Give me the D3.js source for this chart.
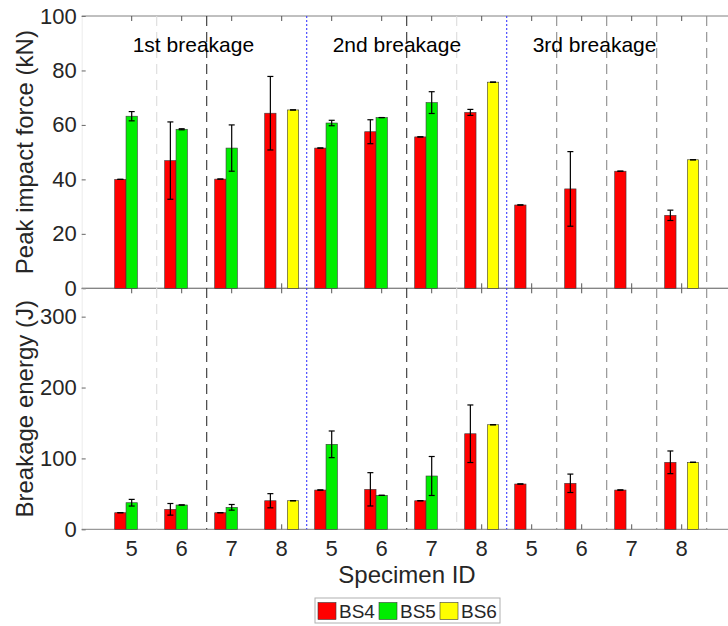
<!DOCTYPE html>
<html>
<head>
<meta charset="utf-8">
<script src="https://cdn.jsdelivr.net/npm/d3@7"></script>
<style>
  html, body { margin: 0; padding: 0; background: #fff; }
  svg { display: block; font-family: 'Liberation Sans', Arial, sans-serif; }
</style>
</head>
<body>
<div id="chart"></div>
<script>
// Specimen IDs, repeated for each breakage stage
const categories = ['5', '6', '7', '8', '5', '6', '7', '8', '5', '6', '7', '8'];
const series = ['BS4', 'BS5', 'BS6'];
const stageLabels = ['1st breakage', '2nd breakage', '3rd breakage'];

// Peak impact force (kN)
const forceBS4 = [40.0, 46.9, 40.1, 64.3, 51.5, 57.5, 55.6, 64.6, 30.6, 36.5, 43.0, 26.8];
const forceBS4Err = [0, 14.2, 0, 13.5, 0, 4.4, 0, 1.1, 0, 13.7, 0, 1.9];
const forceBS5 = [63.2, 58.4, 51.5, null, 60.7, 62.7, 68.2, null, null, null, null, null];
const forceBS5Err = [1.7, 0.2, 8.5, null, 1.0, 0, 4.0, null, null, null, null, null];
const forceBS6 = [null, null, null, 65.5, null, null, null, 75.7, null, null, null, 47.2];
const forceBS6Err = [null, null, null, 0, null, null, null, 0, null, null, null, 0];

// Breakage energy (J)
const energyBS4 = [23.4, 28.2, 23.4, 40.3, 55.4, 56.4, 40.3, 134.8, 63.9, 64.9, 55.4, 94.5];
const energyBS4Err = [0, 8.2, 0, 10.0, 0, 23.5, 0, 40.6, 0, 13.0, 0, 16.0];
const energyBS5 = [37.5, 34.3, 31.0, null, 119.9, 47.9, 75.2, null, null, null, null, null];
const energyBS5Err = [4.7, 0, 4.0, null, 18.8, 0, 27.5, null, null, null, null, null];
const energyBS6 = [null, null, null, 40.3, null, null, null, 147.5, null, null, null, 94.5];
const energyBS6Err = [null, null, null, 0, null, null, null, 0, null, null, null, 0];

const forceTicks = [0, 20, 40, 60, 80, 100];
const energyTicks = [0, 100, 200, 300];

(function () {
  'use strict';

  const width = 728;
  const height = 626;
  const colors = { BS4: '#ff0000', BS5: '#00ee00', BS6: '#ffff00' };
  const textColor = '#262626';
  const axisColor = '#808080';

  const svg = d3.select('#chart')
    .append('svg')
    .attr('width', width)
    .attr('height', height);

  svg.append('rect')
    .attr('width', width)
    .attr('height', height)
    .attr('fill', '#fff');

  // x scale: category i sits at i + 1
  const x = d3.scaleLinear().domain([0, 13]).range([81.7, 731.7]);
  const inner = d3.scaleBand().domain(series).range([-17, 17]).padding(0);

  const panels = [
    {
      label: 'Peak impact force (kN)',
      y: d3.scaleLinear().domain([0, 100]).range([288.3, 16]),
      ticks: forceTicks,
      values: { BS4: forceBS4, BS5: forceBS5, BS6: forceBS6 },
      errs: { BS4: forceBS4Err, BS5: forceBS5Err, BS6: forceBS6Err }
    },
    {
      label: 'Breakage energy (J)',
      y: d3.scaleLinear().domain([0, 340]).range([529.3, 288.3]),
      ticks: energyTicks,
      values: { BS4: energyBS4, BS5: energyBS5, BS6: energyBS6 },
      errs: { BS4: energyBS4Err, BS5: energyBS5Err, BS6: energyBS6Err }
    }
  ];

  // Vertical divider styles between specimens (null = none)
  const dividerStyle = [
    { color: '#dcdcdc', dash: '10,6' },
    { color: '#333333', dash: '10,6' },
    null,
    { color: '#3b3bff', dash: '2,2' },
    null,
    { color: '#333333', dash: '10,6' },
    { color: '#dcdcdc', dash: '10,6' },
    { color: '#3b3bff', dash: '2,2' },
    { color: '#8c8c8c', dash: '10,6' },
    { color: '#8c8c8c', dash: '10,6' },
    { color: '#8c8c8c', dash: '10,6' },
    { color: '#8c8c8c', dash: '10,6' }
  ];

  const catIdx = categories.map((_, i) => i);

  panels.forEach((p, pi) => {
    const y = p.y;
    const [yBottom, yTop] = y.range();

    // Left axis with inward ticks
    svg.append('g')
      .attr('transform', `translate(${x(0)},0)`)
      .call(d3.axisLeft(y).tickValues(p.ticks).tickSize(-4).tickPadding(5))
      .call(g => g.select('.domain').attr('stroke', '#ececec'))
      .call(g => g.selectAll('.tick line').attr('stroke', '#666'))
      .call(g => g.selectAll('.tick text')
        .attr('fill', textColor)
        .attr('font-size', '22px'));

    // Box lines top and bottom
    [yTop, yBottom].forEach(yy => {
      svg.append('line')
        .attr('x1', x(0)).attr('x2', width)
        .attr('y1', yy).attr('y2', yy)
        .attr('stroke', axisColor)
        .attr('stroke-width', 1);
    });

    // Inward category ticks on top and bottom
    svg.append('g')
      .selectAll('line.tt')
      .data(catIdx)
      .join('line')
      .attr('x1', i => x(i + 1)).attr('x2', i => x(i + 1))
      .attr('y1', yTop).attr('y2', yTop + 5)
      .attr('stroke', '#555');
    svg.append('g')
      .selectAll('line.bt')
      .data(catIdx)
      .join('line')
      .attr('x1', i => x(i + 1)).attr('x2', i => x(i + 1))
      .attr('y1', yBottom).attr('y2', yBottom - 5)
      .attr('stroke', '#555');

    // Y label
    svg.append('text')
      .attr('transform', `translate(33,${(yTop + yBottom) / 2}) rotate(-90)`)
      .attr('text-anchor', 'middle')
      .attr('fill', textColor)
      .attr('font-size', '24px')
      .text(p.label);
  });

  // Dividers across both panels
  dividerStyle.forEach((s, i) => {
    if (!s) return;
    svg.append('line')
      .attr('x1', x(i + 1.5)).attr('x2', x(i + 1.5))
      .attr('y1', 16).attr('y2', 529.3)
      .attr('stroke', s.color)
      .attr('stroke-width', 1.1)
      .attr('stroke-dasharray', s.dash);
  });

  // Bars and error bars
  panels.forEach(p => {
    const y = p.y;
    series.forEach(s => {
      const rows = catIdx
        .filter(i => p.values[s][i] !== null)
        .map(i => ({ i, v: p.values[s][i], e: p.errs[s][i] || 0 }));

      const g = svg.append('g');

      g.selectAll('rect')
        .data(rows)
        .join('rect')
        .attr('x', d => x(d.i + 1) + inner(s))
        .attr('width', inner.bandwidth())
        .attr('y', d => y(d.v))
        .attr('height', d => y(0) - y(d.v))
        .attr('fill', colors[s])
        .attr('stroke', '#3a3a3a')
        .attr('stroke-width', 0.6);

      const cx = d => x(d.i + 1) + inner(s) + inner.bandwidth() / 2;

      g.selectAll('line.err')
        .data(rows)
        .join('line')
        .attr('class', 'err')
        .attr('x1', cx).attr('x2', cx)
        .attr('y1', d => y(d.v + d.e))
        .attr('y2', d => y(d.v - d.e))
        .attr('stroke', '#000')
        .attr('stroke-width', 1.2);

      ['hi', 'lo'].forEach(k => {
        g.selectAll('line.cap' + k)
          .data(rows)
          .join('line')
          .attr('class', 'cap' + k)
          .attr('x1', d => cx(d) - 3).attr('x2', d => cx(d) + 3)
          .attr('y1', d => y(k === 'hi' ? d.v + d.e : d.v - d.e))
          .attr('y2', d => y(k === 'hi' ? d.v + d.e : d.v - d.e))
          .attr('stroke', '#000')
          .attr('stroke-width', 1.2);
      });
    });
  });

  // Stage labels
  svg.append('g')
    .selectAll('text')
    .data(stageLabels)
    .join('text')
    .attr('x', (d, k) => x(1 + 4 * k) + 1)
    .attr('y', 52)
    .attr('fill', '#000')
    .attr('font-size', '21px')
    .text(d => d);

  // X tick labels under bottom panel
  svg.append('g')
    .selectAll('text')
    .data(catIdx)
    .join('text')
    .attr('x', i => x(i + 1))
    .attr('y', 556)
    .attr('text-anchor', 'middle')
    .attr('fill', textColor)
    .attr('font-size', '22px')
    .text(i => categories[i]);

  svg.append('text')
    .attr('x', 407)
    .attr('y', 583)
    .attr('text-anchor', 'middle')
    .attr('fill', textColor)
    .attr('font-size', '24px')
    .text('Specimen ID');

  // Legend
  const legend = svg.append('g');
  legend.append('rect')
    .attr('x', 315).attr('y', 598)
    .attr('width', 185).attr('height', 25)
    .attr('fill', '#fff')
    .attr('stroke', '#b0b0b0');

  const legendX = [318, 379, 440];
  series.forEach((s, k) => {
    legend.append('rect')
      .attr('x', legendX[k]).attr('y', 602.5)
      .attr('width', 18).attr('height', 17)
      .attr('fill', colors[s])
      .attr('stroke', '#3a3a3a')
      .attr('stroke-width', 0.6);
    legend.append('text')
      .attr('x', legendX[k] + 21)
      .attr('y', 618)
      .attr('fill', textColor)
      .attr('font-size', '19px')
      .text(s);
  });
})();
</script>
</body>
</html>
